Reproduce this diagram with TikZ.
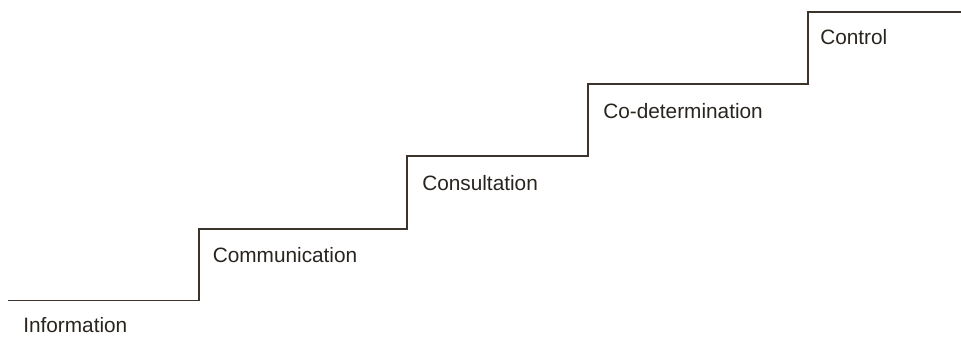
\documentclass[tikz,border=0pt]{standalone}
\usepackage{fontspec}
\setmainfont{Liberation Sans}
\usetikzlibrary{calc}
\definecolor{inkline}{HTML}{3A342D}
\definecolor{inktext}{HTML}{2A241F}
\tikzset{
  stair/.style={draw=inkline, line width=1pt, line join=miter},
  steplabel/.style={anchor=base west, inner sep=0pt, text=inktext,
    font=\fontsize{15.6}{18}\selectfont}
}
\newcommand{\riser}[3]{\coordinate (#1) at (#2,#3);}

\begin{document}
\begin{tikzpicture}[x=0.75pt, y=-0.75pt]
  \useasboundingbox (0,0) rectangle (961,336);
  % corners of the stairs
  \coordinate (s0) at (8,300.5);
  \riser{s1}{199}{229}
  \riser{s2}{407}{156}
  \riser{s3}{588}{84}
  \riser{s4}{808}{12}
  \coordinate (s5) at (961,12);
  \draw[stair] (s0) -| (s1) -| (s2) -| (s3) -| (s4) -- (s5);
  % the levels
  \node[steplabel] (info)    at ($(s0)+(15,31.5)$) {Information};
  \node[steplabel] (comm)    at ($(s1)+(13.5,33)$) {Communication};
  \node[steplabel] (consult) at ($(s2)+(15,34)$)   {Consultation};
  \node[steplabel] (codet)   at ($(s3)+(15,34.5)$) {Co-determination};
  \node[steplabel] (control) at ($(s4)+(12,32)$)   {Control};
\end{tikzpicture}
\end{document}
